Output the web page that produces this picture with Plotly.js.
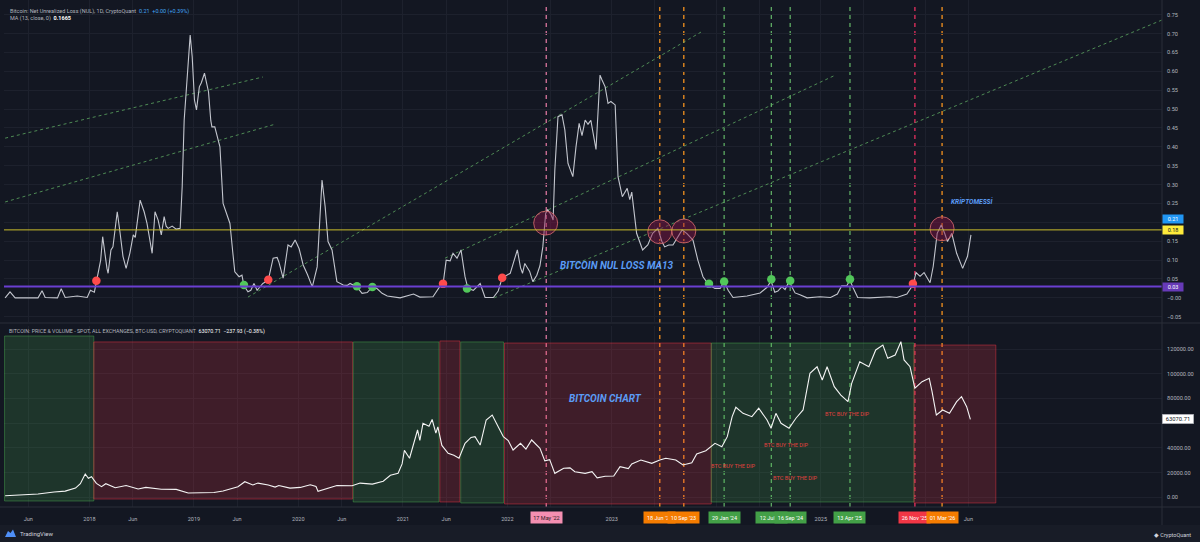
<!DOCTYPE html>
<html><head><meta charset="utf-8">
<script src="https://cdn.plot.ly/plotly-3.0.1.min.js"></script>
<style>html,body{margin:0;padding:0;background:#131722;}#chart{width:1200px;height:542px;}</style>
</head><body><div id="chart"></div>
<script>
// ---------- DATA ----------
const nulDates = [
'2017-03-12','2017-03-29','2017-04-16','2017-06-08','2017-07-05','2017-07-19','2017-07-30','2017-09-11','2017-09-24','2017-10-08',
'2017-11-19','2017-12-24','2018-01-04','2018-01-18','2018-01-25','2018-02-09','2018-02-16','2018-02-23','2018-03-03','2018-03-07',
'2018-03-17','2018-03-24','2018-04-08','2018-04-18','2018-04-28','2018-05-09','2018-05-22','2018-06-03','2018-06-10','2018-06-27',
'2018-07-04','2018-07-11','2018-07-21','2018-08-01','2018-08-08','2018-08-18','2018-08-29','2018-09-09','2018-09-19','2018-09-26',
'2018-10-03','2018-10-17','2018-10-31','2018-11-14','2018-11-21','2018-11-28','2018-12-09','2018-12-19','2018-12-26','2019-01-03',
'2019-01-10','2019-01-20','2019-01-27','2019-02-07','2019-02-14','2019-02-21','2019-03-01','2019-03-05','2019-03-15','2019-03-25',
'2019-04-02','2019-04-13','2019-04-26','2019-05-07','2019-05-17','2019-05-24','2019-06-08','2019-06-18','2019-06-25','2019-07-09',
'2019-07-19','2019-07-30','2019-08-10','2019-08-30','2019-09-18','2019-09-28','2019-10-05','2019-10-19','2019-10-25','2019-11-09',
'2019-11-19','2019-11-26','2019-12-07','2019-12-21','2020-01-04','2020-01-18','2020-02-02','2020-02-19','2020-03-07','2020-03-17',
'2020-03-24','2020-04-04','2020-04-14','2020-04-28','2020-05-09','2020-05-15','2020-06-06','2020-06-20','2020-06-30','2020-07-24',
'2020-08-11','2020-08-29','2020-09-16','2020-10-03','2020-10-20','2020-11-07','2020-12-22','2021-02-07','2021-03-01','2021-04-16',
'2021-05-10','2021-05-21','2021-06-01','2021-06-15','2021-06-25','2021-07-09','2021-07-23','2021-08-06','2021-08-16','2021-09-04',
'2021-09-28','2021-10-15','2021-11-13','2021-11-30','2021-12-14','2021-12-28','2022-01-11','2022-01-25','2022-02-05','2022-02-16',
'2022-02-23','2022-03-03','2022-03-13','2022-03-20','2022-03-31','2022-04-14','2022-04-25','2022-05-05','2022-05-15','2022-05-22',
'2022-06-03','2022-06-10','2022-06-16','2022-06-27','2022-07-11','2022-07-21','2022-08-01','2022-08-18','2022-08-29','2022-09-09',
'2022-09-19','2022-09-30','2022-10-10','2022-10-20','2022-11-07','2022-11-21','2022-11-28','2022-12-09','2022-12-19','2022-12-29',
'2023-01-13','2023-01-23','2023-02-07','2023-02-24','2023-03-05','2023-03-12','2023-03-29','2023-04-19','2023-05-07','2023-05-24',
'2023-06-11','2023-06-25','2023-07-05','2023-07-19','2023-08-03','2023-08-20','2023-09-04','2023-09-21','2023-10-12','2023-10-29',
'2023-11-16','2023-12-07','2023-12-28','2024-01-15','2024-01-29','2024-02-12','2024-02-29','2024-04-18','2024-06-03','2024-06-27',
'2024-07-11','2024-07-24','2024-08-04','2024-08-18','2024-08-29','2024-09-12','2024-10-03','2024-10-20','2024-11-14','2024-12-29',
'2025-02-04','2025-02-28','2025-03-15','2025-04-02','2025-04-13','2025-04-23','2025-05-10','2025-06-21','2025-08-30','2025-09-24',
'2025-10-29','2025-11-19','2025-11-30','2025-12-14','2025-12-28','2026-01-18','2026-01-29','2026-02-12','2026-02-26','2026-03-10',
'2026-03-20','2026-04-04','2026-04-21','2026-05-12','2026-05-29','2026-06-10'];
const nulValues = [
0.000,0.016,0.000,0.001,0.000,0.019,0.001,0.000,0.024,0.001,
0.005,0.001,0.020,0.015,0.043,0.100,0.162,0.120,0.078,0.065,
0.127,0.135,0.228,0.171,0.110,0.078,0.118,0.167,0.160,0.259,
0.245,0.228,0.197,0.150,0.118,0.228,0.206,0.167,0.215,0.190,
0.184,0.190,0.182,0.184,0.294,0.471,0.586,0.696,0.639,0.524,
0.498,0.559,0.570,0.595,0.570,0.546,0.470,0.453,0.453,0.420,
0.400,0.250,0.220,0.197,0.120,0.069,0.056,0.060,0.032,0.016,
0.020,0.038,0.020,0.038,0.047,0.080,0.105,0.107,0.095,0.052,
0.100,0.140,0.135,0.153,0.130,0.087,0.062,0.029,0.082,0.200,
0.312,0.241,0.149,0.127,0.080,0.043,0.034,0.033,0.038,0.029,
0.012,0.014,0.029,0.024,0.012,0.005,0.000,0.010,0.002,0.003,
0.030,0.035,0.100,0.098,0.118,0.105,0.127,0.056,0.025,0.020,
0.038,0.001,0.001,0.018,0.053,0.058,0.065,0.100,0.127,0.080,
0.065,0.091,0.080,0.070,0.043,0.060,0.085,0.135,0.224,0.233,
0.220,0.206,0.339,0.480,0.485,0.445,0.356,0.321,0.400,0.462,
0.430,0.471,0.460,0.470,0.393,0.590,0.577,0.559,0.515,0.520,
0.511,0.321,0.268,0.290,0.260,0.280,0.171,0.127,0.140,0.171,
0.184,0.150,0.135,0.140,0.140,0.160,0.180,0.170,0.153,0.100,
0.056,0.034,0.025,0.025,0.043,0.020,0.001,0.005,0.013,0.028,
0.045,0.015,0.018,0.030,0.022,0.043,0.013,0.008,0.000,0.003,
0.001,0.010,0.032,0.032,0.047,0.028,0.001,0.000,0.003,0.001,
0.010,0.034,0.067,0.057,0.067,0.040,0.083,0.171,0.193,0.171,
0.149,0.171,0.118,0.078,0.110,0.167];

const priceDates = [
'2017-03-12','2017-05-14','2017-07-05','2017-08-30','2017-10-08','2017-11-13','2017-11-30','2017-12-17','2017-12-28','2018-01-08',
'2018-01-25','2018-02-12','2018-02-27','2018-04-01','2018-05-09','2018-06-20','2018-07-17','2018-09-09','2018-10-31','2018-12-12',
'2019-01-20','2019-03-12','2019-04-13','2019-05-07','2019-06-04','2019-06-28','2019-07-26','2019-08-13','2019-09-18','2019-10-12',
'2019-10-25','2019-12-03','2020-01-08','2020-02-12','2020-03-03','2020-03-10','2020-04-04','2020-05-15','2020-07-07','2020-08-04',
'2020-09-16','2020-10-24','2020-11-18','2020-12-15','2020-12-29','2021-01-06','2021-01-24','2021-02-11','2021-02-21','2021-03-01',
'2021-03-12','2021-04-02','2021-04-13','2021-04-26','2021-05-03','2021-05-17','2021-06-08','2021-06-28','2021-07-16','2021-08-06',
'2021-08-27','2021-09-10','2021-09-28','2021-10-19','2021-11-09','2021-11-30','2021-12-18','2022-01-04','2022-01-21','2022-02-16',
'2022-03-07','2022-03-27','2022-04-25','2022-05-12','2022-05-29','2022-06-16','2022-07-17','2022-08-08','2022-08-25','2022-09-30',
'2022-10-24','2022-11-11','2022-12-09','2023-01-08','2023-01-30','2023-02-28','2023-03-12','2023-04-13','2023-05-21','2023-06-18',
'2023-07-09','2023-08-13','2023-09-07','2023-10-08','2023-10-25','2023-11-26','2023-12-28','2024-01-21','2024-02-09','2024-02-26',
'2024-03-10','2024-04-04','2024-05-05','2024-05-29','2024-06-27','2024-07-11','2024-07-28','2024-08-15','2024-09-12','2024-10-06',
'2024-10-31','2024-11-24','2024-12-19','2025-01-06','2025-01-23','2025-02-17','2025-03-12','2025-04-06','2025-04-19','2025-05-17',
'2025-06-18','2025-07-12','2025-08-06','2025-08-23','2025-09-18','2025-10-08','2025-10-19','2025-11-09','2025-11-26','2025-12-21',
'2026-01-15','2026-01-25','2026-02-09','2026-03-03','2026-03-27','2026-04-21','2026-05-08','2026-05-26','2026-06-08'];
const priceValues = [
1200,2000,2700,4300,5000,7500,11000,18900,15400,16700,
11300,8600,11000,7800,9500,6700,8000,6500,6400,3500,
3600,3900,5100,6800,8500,12600,10000,11500,10000,8300,
9500,7400,8000,10200,8800,4800,6800,9600,9300,11500,
10700,13000,17800,19500,27000,38000,31600,46000,54500,46000,
59900,57500,63000,52000,57000,42000,35600,34000,31600,43700,
48500,49100,42300,62600,66600,57200,49100,46000,38300,43700,
39000,46400,39700,29500,30500,19400,23500,23800,20700,19400,
20700,15800,17000,17200,24800,23200,27000,30200,27500,30200,
31600,30200,26200,28000,35100,37700,43700,41000,49100,65300,
72900,68000,65300,72100,62600,55900,68000,59900,55900,64000,
70700,100400,105700,95000,105700,89600,82800,77400,92300,109800,
105700,119300,123300,112500,115200,126000,111200,105700,88300,93600,
96400,85500,66600,70700,68000,77400,81500,73400,63070.71];

const redDotDates = ['2018-01-25','2019-09-18','2021-05-21','2021-12-14','2025-11-19'];
const redDotValues = [0.045,0.048,0.037,0.053,0.037];
const greenDotDates = ['2019-06-25','2020-07-24','2020-09-16','2021-08-13','2023-12-07','2024-01-29','2024-07-12','2024-09-16','2025-04-13'];
const greenDotValues = [0.034,0.031,0.029,0.025,0.037,0.043,0.049,0.045,0.049];
const circleDates = ['2022-05-15','2023-06-18','2023-09-10','2026-03-01'];
const circleValues = [0.198,0.175,0.177,0.183];

const eventDates = ['2022-05-17','2023-06-18','2023-09-10','2024-01-29','2024-07-12','2024-09-16','2025-04-13','2025-11-26','2026-03-01'];
const eventLabels = ["17 May '22","18 Jun '23","10 Sep '23","29 Jan '24","12 Jul '24","16 Sep '24","13 Apr '25","26 Nov '25","01 Mar '26"];
const eventKinds = ['pink','orange','orange','green','green','green','green','red','orange'];

const regimeStarts = ['2017-03-10','2018-01-16','2020-07-11','2021-05-10','2021-07-22','2021-12-22','2023-12-15','2025-11-23'];
const regimeEnds   = ['2018-01-16','2020-07-09','2021-05-07','2021-07-19','2021-12-19','2023-12-15','2025-11-23','2026-09-05'];
const regimeKinds  = ['green','red','green','red','green','red','green','red'];
const regimeTops   = [130600,125800,125800,126600,125800,124900,124900,123300];
const regimeBottoms= [-3000,-1400,-3800,-3800,-4600,-5400,-3800,-4600];

const trendStartDates = ['2017-03-12','2017-03-12','2019-07-09','2021-05-28','2021-11-16'];
const trendStartValues = [0.423,0.254,0.002,0.105,0.000];
const trendEndDates = ['2019-08-30','2019-10-12','2023-11-09','2025-02-21','2028-04-08'];
const trendEndValues = [0.585,0.460,0.704,0.590,0.736];

const dipDates = ['2024-03-03','2024-09-02','2024-10-03','2025-04-06'];
const dipPrices = [25300,42300,15600,67400];

const levelYellow = 0.18, levelPurple = 0.03, lastNul = 0.21, lastPrice = 63070.71;

const xTickVals = ['2017-06-01','2018-01-01','2018-06-01','2019-01-01','2019-06-01','2020-01-01','2020-06-01','2021-01-01','2021-06-01','2022-01-01','2022-06-01','2023-01-01','2023-06-01','2024-01-01','2024-06-01','2025-01-01','2025-06-01','2026-01-01','2026-06-01'];
// labels hidden behind the event date labels are left blank
const xTickText = ['Jun','2018','Jun','2019','Jun','2020','Jun','2021','Jun','2022','','2023','','','','2025','','','Jun'];
const yTopTicks = [-0.05,0,0.05,0.10,0.15,0.20,0.25,0.30,0.35,0.40,0.45,0.50,0.55,0.60,0.65,0.70,0.75];
// 0.20 sits behind the last-value label, so its text is blank
const yTopText = yTopTicks.map(v => Math.abs(v - 0.20) < 1e-9 ? '' : Math.abs(v) < 1e-9 ? '−0.00' : (v < 0 ? '−' : '') + Math.abs(v).toFixed(2));
const yBotTicks = [0,20000,40000,60000,80000,100000,120000];
// 60000 sits behind the last-price label
const yBotText = yBotTicks.map(v => v === 60000 ? '' : v.toFixed(2));

// ---------- STYLE / LAYOUT HELPERS ----------
const BG = '#131722', GRID = '#1d212d', TXT = '#b2b5be', FONT = 'Roboto, Arial, sans-serif';
const PL = 4, PR = 1162, PT = 0, PB = 507;
const px = x => (x - PL) / (PR - PL);
const py = y => (PB - y) / (PB - PT);
const kindStyle = {
  pink:   {line:'rgba(240,128,170,0.9)', bg:'#f48fb1', fg:'#2a1a22'},
  orange: {line:'#f5921e', bg:'#f57c00', fg:'#ffffff'},
  green:  {line:'rgba(102,187,106,0.9)', bg:'#43a047', fg:'#ffffff'},
  red:    {line:'#e8305f', bg:'#f23645', fg:'#ffffff'}
};

const traces = [
  {x: priceDates, y: priceValues, xaxis:'x', yaxis:'y2', type:'scatter', mode:'lines',
   line:{color:'#f4f4f4', width:1.1}, hoverinfo:'skip'},
  {x: nulDates, y: nulValues, xaxis:'x2', yaxis:'y', type:'scatter', mode:'lines',
   line:{color:'#c3c6ce', width:1.1}, hoverinfo:'skip'},
  {x: circleDates, y: circleValues, xaxis:'x2', yaxis:'y', type:'scatter', mode:'markers',
   marker:{size:24, color:'rgba(136,20,70,0.45)', line:{color:'rgba(229,115,115,0.75)', width:1}}, hoverinfo:'skip'},
  {x: redDotDates, y: redDotValues, xaxis:'x2', yaxis:'y', type:'scatter', mode:'markers',
   marker:{size:8.5, color:'#ff4b4b'}, hoverinfo:'skip'},
  {x: greenDotDates, y: greenDotValues, xaxis:'x2', yaxis:'y', type:'scatter', mode:'markers',
   marker:{size:8.5, color:'#52c75a'}, hoverinfo:'skip'}
];

const shapes = [];
regimeStarts.forEach((s, i) => {
  const g = regimeKinds[i] === 'green';
  shapes.push({type:'rect', xref:'x', yref:'y2', x0:s, x1:regimeEnds[i], y0:regimeBottoms[i], y1:regimeTops[i],
    fillcolor: g ? 'rgba(76,175,80,0.2)' : 'rgba(242,54,69,0.2)',
    line:{color: g ? 'rgba(76,175,80,0.45)' : 'rgba(242,54,69,0.45)', width:1}, layer:'between'});
});
trendStartDates.forEach((s, i) => {
  shapes.push({type:'line', xref:'x2', yref:'y', x0:s, y0:trendStartValues[i], x1:trendEndDates[i], y1:trendEndValues[i],
    line:{color:'rgba(102,187,106,0.7)', width:1, dash:'3px,3px'}, layer:'between'});
});
shapes.push({type:'line', xref:'paper', yref:'y', x0:0, x1:1, y0:levelYellow, y1:levelYellow, line:{color:'#cbbd2c', width:1}});
shapes.push({type:'line', xref:'paper', yref:'y', x0:0, x1:1, y0:levelPurple, y1:levelPurple, line:{color:'#6a3fd0', width:2}});
eventDates.forEach((d, i) => {
  shapes.push({type:'line', xref:'x', yref:'paper', x0:d, x1:d, y0:0, y1:py(3),
    line:{color:kindStyle[eventKinds[i]].line, width:1.3, dash:'4px,4px'}, layer:'between'});
});
shapes.push({type:'line', xref:'paper', yref:'paper', x0:px(0), x1:px(1200), y0:py(323), y1:py(323), line:{color:'#2a2e39', width:1}});
shapes.push({type:'line', xref:'paper', yref:'paper', x0:px(1162), x1:px(1162), y0:py(525), y1:py(0), line:{color:'#2a2e39', width:1}});
shapes.push({type:'line', xref:'paper', yref:'paper', x0:px(0), x1:px(1200), y0:py(507), y1:py(507), line:{color:'#2a2e39', width:1}});
shapes.push({type:'rect', xref:'paper', yref:'paper', x0:px(0), x1:px(1200), y0:py(525), y1:py(542), fillcolor:'#181c27', line:{width:0}});
shapes.push({type:'path', xref:'paper', yref:'paper',
  path:`M ${px(5)} ${py(537)} L ${px(8)} ${py(531)} L ${px(10.5)} ${py(533)} L ${px(13)} ${py(529.5)} L ${px(16)} ${py(537)} Z`,
  fillcolor:'#4f8ff7', line:{width:0}});

const annotations = [];
const ann = (o) => annotations.push(Object.assign({showarrow:false, font:{family:FONT, size:5.5, color:TXT}}, o));
ann({xref:'paper', yref:'paper', x:px(8), y:py(11.7), xanchor:'left', yanchor:'middle',
  text:'Bitcoin: Net Unrealized Loss (NUL), 1D, CryptoQuant  <span style="color:#42a5f5">0.21  +0.00 (+0.39%)</span>'});
ann({xref:'paper', yref:'paper', x:px(8), y:py(18.5), xanchor:'left', yanchor:'middle',
  text:'MA (13, close, 0)  <b><span style="color:#ffffff">0.1665</span></b>'});
ann({xref:'paper', yref:'paper', x:px(7), y:py(331), xanchor:'left', yanchor:'middle', font:{family:FONT, size:5.3, color:TXT},
  text:'BITCOIN: PRICE &amp; VOLUME - SPOT, ALL EXCHANGES, BTC-USD, CRYPTOQUANT  <span style="color:#ffffff">63070.71  −237.93 (−0.38%)</span>'});
ann({xref:'x2', yref:'y', x:'2023-01-20', y:0.087, xanchor:'center', yanchor:'middle',
  font:{family:FONT, size:10, color:'#5b9cf6'}, text:'<b><i>BITCOIN NUL LOSS MA13</i></b>'});
ann({xref:'x2', yref:'y', x:'2026-06-16', y:0.256, xanchor:'center', yanchor:'middle',
  font:{family:FONT, size:6.6, color:'#5b9cf6'}, text:'<b><i>KRİPTOMESSİ</i></b>'});
ann({xref:'x', yref:'y2', x:'2022-12-09', y:80400, xanchor:'center', yanchor:'middle',
  font:{family:FONT, size:10, color:'#5b9cf6'}, text:'<b><i>BITCOIN CHART</i></b>'});
dipDates.forEach((d, i) => ann({xref:'x', yref:'y2', x:d, y:dipPrices[i], xanchor:'center', yanchor:'middle',
  font:{family:FONT, size:5.6, color:'#e0413f'}, text:'BTC BUY THE DIP'}));
eventDates.forEach((d, i) => {
  const k = kindStyle[eventKinds[i]];
  ann({xref:'x', yref:'paper', x:d, y:py(517.7), xanchor:'center', yanchor:'middle', width:29, height:9, borderpad:1,
    bgcolor:k.bg, font:{family:FONT, size:5.5, color:k.fg}, text:eventLabels[i]});
});
const scaleLabel = (yref, y, text, bg, fg) => ann({xref:'paper', yref:yref, x:px(1162), y:y, xanchor:'left', yanchor:'middle',
  width:18, height:6, borderpad:1, bgcolor:bg, font:{family:FONT, size:5.5, color:fg}, text:text});
scaleLabel('y', lastNul, '0.21', '#2196f3', '#ffffff');
scaleLabel('y', levelYellow, '0.18', '#ffeb3b', '#131722');
scaleLabel('y', levelPurple, '0.03', '#673ab7', '#ffffff');
ann({xref:'paper', yref:'y2', x:px(1162), y:lastPrice, xanchor:'left', yanchor:'middle', width:29, height:7, borderpad:1,
  bgcolor:'#ffffff', bordercolor:'#9598a1', borderwidth:0.5, font:{family:FONT, size:5.8, color:'#131722'}, text:'63070.71'});
ann({xref:'paper', yref:'paper', x:px(18), y:py(533), xanchor:'left', yanchor:'middle', font:{family:FONT, size:6, color:'#d1d4dc'}, text:'TradingView'});
ann({xref:'paper', yref:'paper', x:px(1193), y:py(535), xanchor:'right', yanchor:'middle', font:{family:FONT, size:5.5, color:'#d1d4dc'}, text:'◆ CryptoQuant'});

const xCommon = {type:'date', range:['2017-03-08','2028-04-08'], tickvals:xTickVals, ticktext:xTickText,
  showgrid:true, gridcolor:GRID, gridwidth:1, zeroline:false, showline:false, fixedrange:true};
const layout = {
  width:1200, height:542, paper_bgcolor:BG, plot_bgcolor:BG, showlegend:false, hovermode:false,
  margin:{l:PL, r:1200-PR, t:PT, b:542-PB, pad:0},
  xaxis: Object.assign({}, xCommon, {domain:[0,1], anchor:'y2', ticks:'outside', ticklen:6, tickcolor:'rgba(0,0,0,0)',
    tickfont:{family:FONT, size:5.5, color:TXT}}),
  xaxis2: Object.assign({}, xCommon, {domain:[0,1], anchor:'y', matches:'x', showticklabels:false, ticks:''}),
  yaxis: {domain:[py(322),1], range:[-0.064,0.789], side:'right', anchor:'x2', tickvals:yTopTicks, ticktext:yTopText,
    showgrid:true, gridcolor:GRID, zeroline:false, showline:false, ticks:'outside', ticklen:3, tickcolor:'rgba(0,0,0,0)',
    tickfont:{family:FONT, size:5.6, color:TXT}, fixedrange:true},
  yaxis2: {domain:[0,py(326)], range:[-7854,138700], side:'right', anchor:'x', tickvals:yBotTicks, ticktext:yBotText,
    showgrid:true, gridcolor:GRID, zeroline:false, showline:false, ticks:'outside', ticklen:3, tickcolor:'rgba(0,0,0,0)',
    tickfont:{family:FONT, size:5.6, color:TXT}, fixedrange:true},
  shapes: shapes, annotations: annotations
};
Plotly.newPlot('chart', traces, layout, {displayModeBar:false, staticPlot:true});
</script></body></html>
